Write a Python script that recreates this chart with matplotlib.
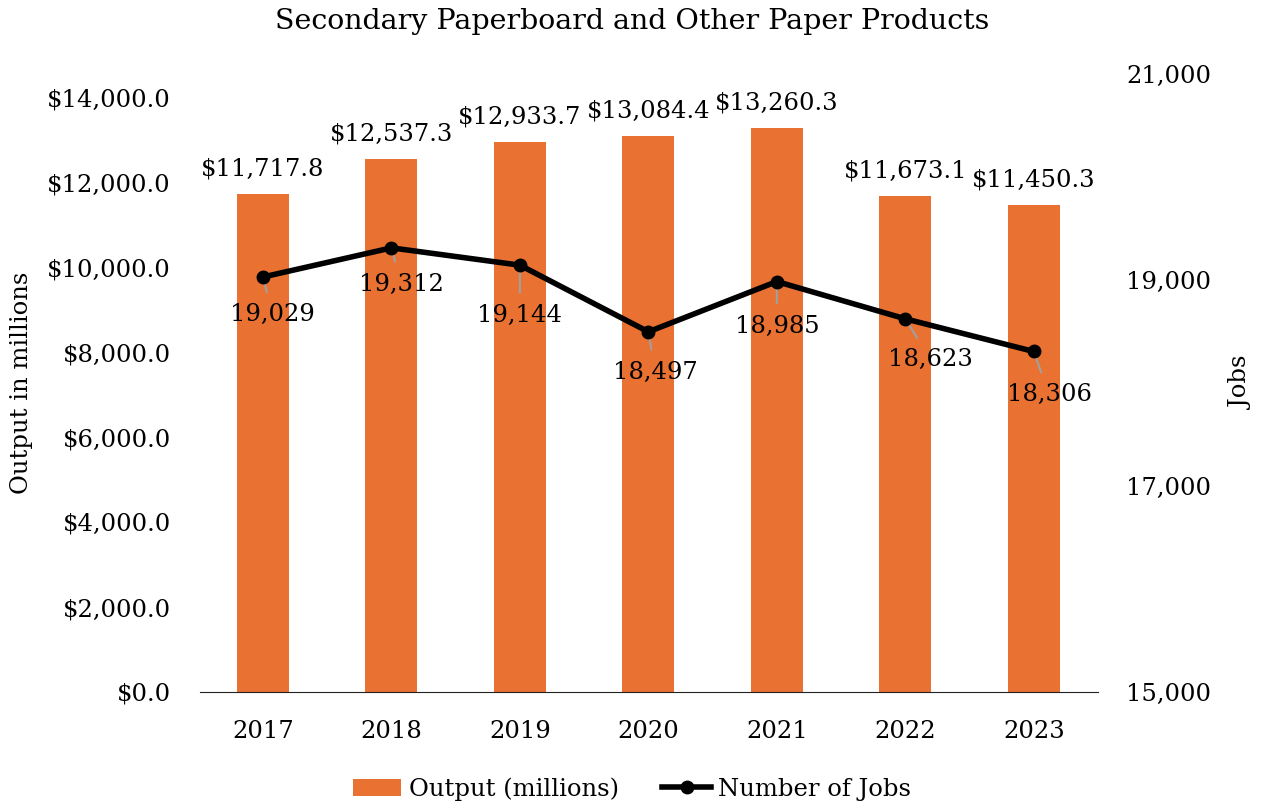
import numpy as np
import matplotlib
matplotlib.use('Agg')
import matplotlib.pyplot as plt
from matplotlib.ticker import FuncFormatter

plt.rcParams['font.family'] = ['DejaVu Serif']

years = ['2017', '2018', '2019', '2020', '2021', '2022', '2023']
output = [11717.8, 12537.3, 12933.7, 13084.4, 13260.3, 11673.1, 11450.3]
jobs = [19029, 19312, 19144, 18497, 18985, 18623, 18306]

ORANGE = '#E97132'
FS = 17.5

fig = plt.figure(figsize=(12.64, 8.09), dpi=100)
ax = fig.add_axes([200 / 1264, 1 - 692 / 809, 898 / 1264, 618 / 809])
x = np.arange(len(years))
bars = ax.bar(x, output, 0.405, color=ORANGE, label='Output (millions)', zorder=2)
ax.set_xlim(-0.49, 6.5)
ax.set_ylim(0, 14000 * 618 / 595)
ax.set_yticks(np.arange(0, 14001, 2000))
ax.yaxis.set_major_formatter(FuncFormatter(lambda v, p: f'${v:,.1f}'))
ax.set_xticks(x)
ax.set_xticklabels(years)
ax.tick_params(axis='both', length=0, labelsize=FS)
ax.tick_params(axis='x', pad=20)
ax.tick_params(axis='y', pad=21)
for s in ['top', 'right', 'left']:
    ax.spines[s].set_visible(False)
ax.spines['bottom'].set_color('#222222')
ax.set_ylabel('Output in millions', fontsize=FS, labelpad=10)

for xi, v in zip(x, output):
    ax.annotate(f'${v:,.1f}', (xi, v), xytext=(0, 10), textcoords='offset points',
                ha='center', va='bottom', fontsize=FS)

ax2 = ax.twinx()
ax2.plot(x, jobs, '-o', color='black', lw=4, ms=9, label='Number of Jobs', zorder=3)
ax2.set_ylim(15000, 21000)
ax2.set_yticks([15000, 17000, 19000, 21000])
ax2.yaxis.set_major_formatter(FuncFormatter(lambda v, p: f'{v:,.0f}'))
ax2.tick_params(axis='y', length=0, labelsize=FS, pad=20.5)
for s in ['top', 'right', 'left', 'bottom']:
    ax2.spines[s].set_visible(False)
ax2.set_ylabel('Jobs', fontsize=FS, labelpad=13)

# label offsets in points (from reference pixel positions)
offsets = [(7, -27), (7, -26), (0, -36), (5, -29), (0, -32), (18, -29), (11, -31)]
for xi, v, off in zip(x, jobs, offsets):
    ax2.annotate(f'{v:,}', (xi, v), xytext=off, textcoords='offset points',
                 ha='center', va='center', fontsize=FS, zorder=2,
                 arrowprops=dict(arrowstyle='-', color='#a0a0a0', lw=1.5,
                                 shrinkA=6, shrinkB=0))

h1, l1 = ax.get_legend_handles_labels()
h2, l2 = ax2.get_legend_handles_labels()
fig.legend(h1 + h2, l1 + l2, loc='lower center', bbox_to_anchor=(0.5, -0.017),
           ncol=2, frameon=False, fontsize=FS, handlelength=2.0, handletextpad=0.3,
           columnspacing=1.8)

fig.suptitle('Secondary Paperboard and Other Paper Products', fontsize=20.5, y=0.99)
fig.savefig('out.png', dpi=100)
